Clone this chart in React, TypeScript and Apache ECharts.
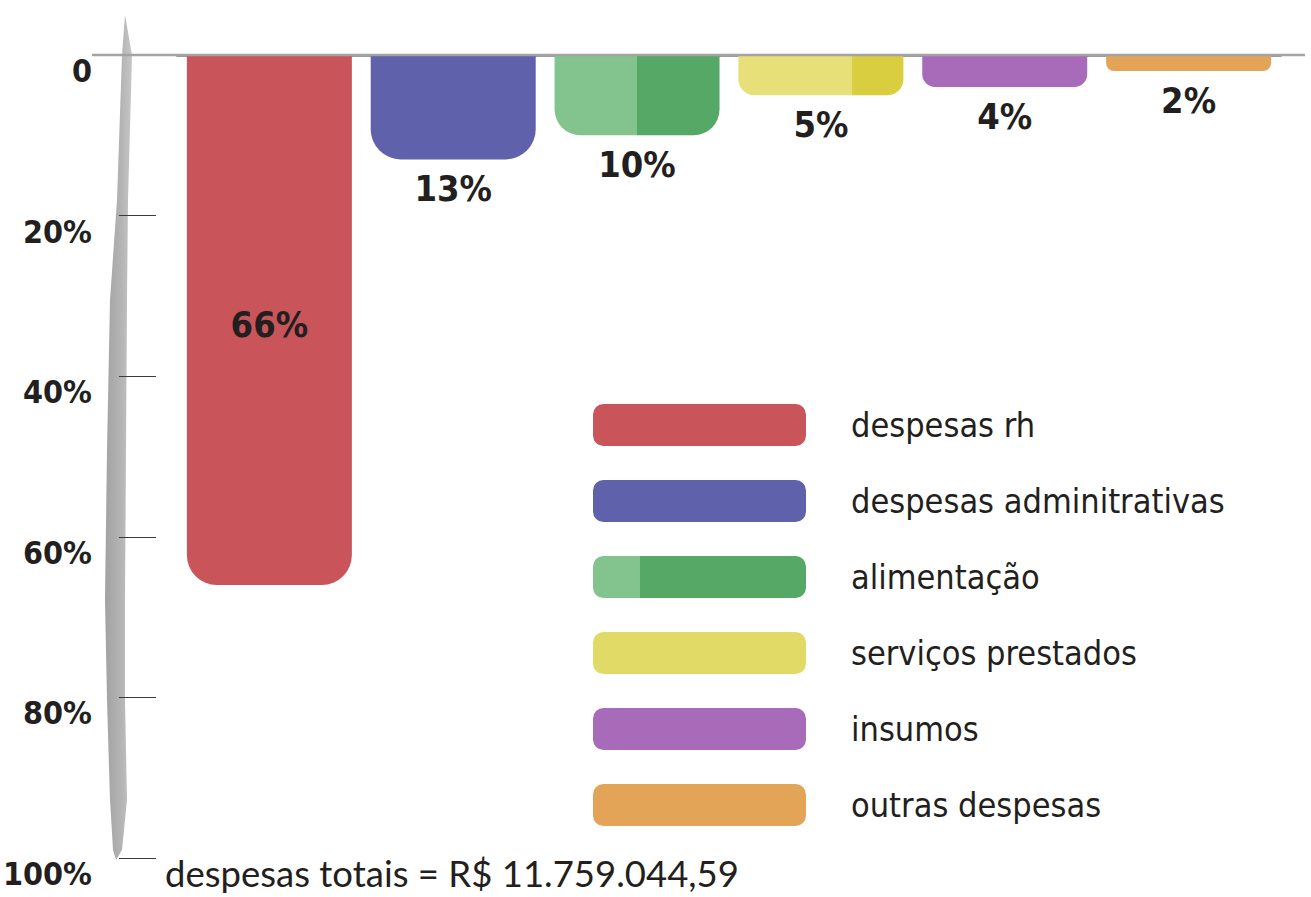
import React, { useEffect, useRef } from "react";
import * as echarts from "echarts";

const categories = ["despesas rh", "despesas adminitrativas", "alimentação", "serviços prestados", "insumos", "outras despesas"];
const values = [66, 13, 10, 5, 4, 2];
const yTicks = [0, 20, 40, 60, 80, 100];
const totalText = "despesas totais = R$ 11.759.044,59";

const split = (a: string, b: string, at: number) => ({
  type: "linear", x: 0, y: 0, x2: 1, y2: 0,
  colorStops: [
    { offset: 0, color: a }, { offset: at, color: a },
    { offset: at, color: b }, { offset: 1, color: b },
  ],
});

const barColors: any[] = [
  "#c9555b",
  "#5f61ab",
  split("#82c38e", "#55a866", 0.5),
  split("#e7df77", "#d9cd40", 0.69),
  "#a86bb9",
  "#e3a457",
];
const legendColors: any[] = [
  "#c9555b",
  "#5f61ab",
  split("#82c38e", "#55a866", 0.22),
  "#e2da66",
  "#a86bb9",
  "#e3a457",
];
const radii = [30, 30, 26, 16, 13, 8];

const labelFont = '"DejaVu Sans Condensed", "DejaVu Sans", sans-serif';

export default function App() {
  const ref = useRef<HTMLDivElement>(null);
  useEffect(() => {
    if (!ref.current) return;
    const chart = echarts.init(ref.current, null, { renderer: "svg" });
    const series = values.map((v, i) => ({
      type: "bar",
      name: categories[i],
      data: values.map((_, j) => (j === i ? v : "-")),
      barWidth: 165,
      barGap: "-100%",
      itemStyle: { color: barColors[i], borderRadius: [0, 0, radii[i], radii[i]] },
      label: {
        show: true,
        position: i === 0 ? "inside" : "bottom",
        offset: i === 0 ? [0, 5] : [0, 0],
        distance: 11,
        formatter: "{c}%",
        fontFamily: labelFont,
        fontWeight: "bold",
        fontSize: 36,
        color: "#231f20",
      },
    }));
    chart.setOption({
      animation: false,
      grid: { left: 175.5, right: 30.5, top: 55, bottom: 39 },
      xAxis: {
        type: "category",
        data: categories,
        position: "top",
        axisLine: { show: true, lineStyle: { color: "#9a9a9a", width: 3 } },
        axisTick: { show: false },
        axisLabel: { show: false },
      },
      yAxis: {
        type: "value",
        inverse: true,
        min: 0,
        max: 100,
        interval: 20,
        offset: 58.5,
        splitLine: { show: false },
        axisLine: { show: false },
        axisTick: { show: true, inside: true, length: 37, lineStyle: { color: "#3a3a3a", width: 1.2 } },
        axisLabel: {
          margin: 27,
          verticalAlign: "top",
          fontFamily: labelFont,
          fontWeight: "bold",
          fontSize: 32,
          color: "#231f20",
          formatter: (v: number) => (yTicks.includes(v) && v === 0 ? "0" : v + "%"),
        },
      },
      legend: {
        orient: "vertical",
        left: 593,
        top: 404,
        padding: 0,
        itemWidth: 213,
        itemHeight: 42,
        itemGap: 34,
        icon: "roundRect",
        data: categories.map((n, i) => ({ name: n, itemStyle: { color: legendColors[i] } })),
        textStyle: {
          fontFamily: labelFont,
          fontSize: 34,
          color: "#231f20",
          padding: [0, 0, 0, 40],
        },
      },
      graphic: [
        {
          type: "polygon",
          z: -1,
          shape: {
            points: [
              [125, 15], [132, 55], [128, 200], [127, 300], [126, 450], [125, 600], [125, 700],
              [127, 800], [122, 850], [116, 860], [113, 850], [110, 800], [107, 700], [105, 600],
              [107, 450], [110, 300], [117, 200], [122, 55],
            ],
          },
          style: {
            fill: {
              type: "linear", x: 0, y: 0, x2: 1, y2: 0,
              colorStops: [
                { offset: 0, color: "#a2a2a2" },
                { offset: 0.6, color: "#b4b4b4" },
                { offset: 1, color: "#c6c6c6" },
              ],
            },
          },
        },
        {
          type: "line",
          shape: { x1: 92, y1: 55, x2: 1305, y2: 55 },
          style: { stroke: "#a3a3a3", lineWidth: 2.5 },
          z: 10,
        },
        {
          type: "text",
          left: 165,
          top: 854,
          style: {
            text: totalText,
            fontFamily: "Lato, sans-serif",
            fontSize: 36.5,
            fill: "#231f20",
          },
        },
      ],
      series,
    });
    return () => chart.dispose();
  }, []);
  return <div ref={ref} style={{ width: 1311, height: 897, position: "absolute", left: 0, top: 0 }} />;
}
